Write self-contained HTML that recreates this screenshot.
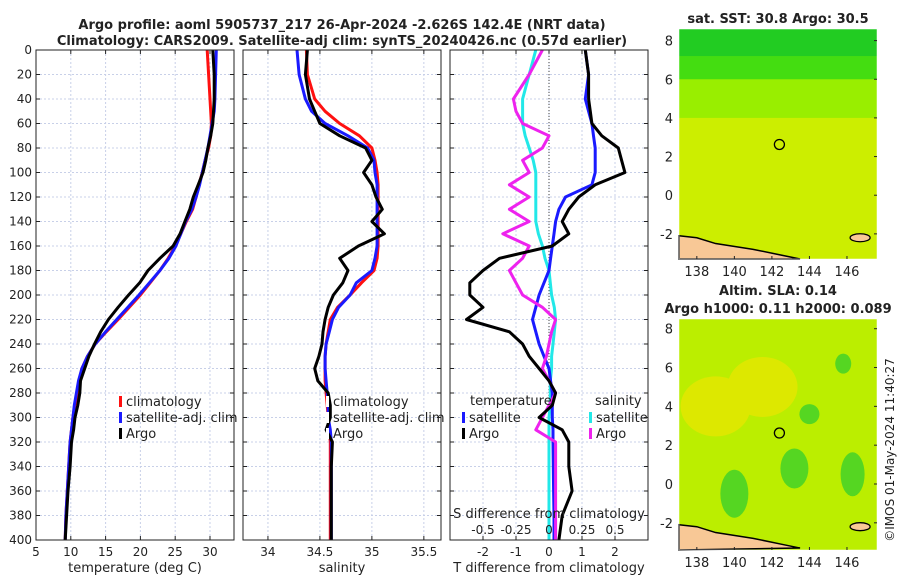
<!DOCTYPE html>
<html><head><meta charset="utf-8"><style>
body{margin:0;background:#fff;font-family:"Liberation Sans","DejaVu Sans",sans-serif}
svg text{font-family:"DejaVu Sans","Liberation Sans",sans-serif;fill:#222}
</style></head><body>
<svg id="c" width="900" height="580" xmlns="http://www.w3.org/2000/svg">
<text x="342" y="29" text-anchor="middle" font-size="13" font-weight="bold">Argo profile: aoml 5905737_217 26-Apr-2024 -2.626S 142.4E (NRT data)</text>
<text x="342" y="45" text-anchor="middle" font-size="13" font-weight="bold">Climatology: CARS2009. Satellite-adj clim: synTS_20240426.nc (0.57d earlier)</text>
<text x="778" y="23" text-anchor="middle" font-size="13" font-weight="bold">sat. SST: 30.8 Argo: 30.5</text>
<text x="778" y="295" text-anchor="middle" font-size="13" font-weight="bold">Altim. SLA: 0.14</text>
<text x="778" y="313" text-anchor="middle" font-size="13" font-weight="bold">Argo h1000: 0.11 h2000: 0.089</text>
<text transform="translate(894,450) rotate(-90)" text-anchor="middle" font-size="12">©IMOS 01-May-2024 11:40:27</text>
<g id="g"></g>
</svg>
<script>
const depths=[0,20,40,50,60,70,80,90,100,110,120,130,140,150,160,170,180,190,200,210,220,230,240,250,260,270,280,290,300,310,320,340,360,380,400];
const tempClim=[29.6,29.8,30.0,30.1,30.2,30.1,29.8,29.3,28.9,28.4,28.0,27.5,26.6,25.8,25.0,24.0,22.8,21.4,20.0,18.4,16.8,15.1,13.5,12.4,11.6,11.2,10.9,10.6,10.3,10.1,9.9,9.7,9.5,9.3,9.2];
const tempSat=[30.9,30.8,30.7,30.6,30.3,30.0,29.7,29.3,28.9,28.5,28.0,27.4,26.5,25.8,25.1,24.1,22.8,21.3,19.8,18.2,16.6,15.0,13.5,12.4,11.6,11.1,10.8,10.5,10.3,10.1,9.9,9.7,9.5,9.3,9.2];
const tempArgo=[30.4,30.6,30.6,30.5,30.4,30.1,29.7,29.4,29.0,28.3,27.6,27.1,26.4,25.7,24.7,22.8,21.1,19.9,18.3,16.8,15.4,14.3,13.4,12.6,12.0,11.4,11.3,11.0,10.6,10.4,10.1,9.9,9.6,9.4,9.2];
const salClim=[34.37,34.38,34.45,34.55,34.69,34.88,35.0,35.03,35.05,35.06,35.06,35.06,35.06,35.06,35.06,35.05,35.02,34.90,34.79,34.67,34.60,34.58,34.56,34.55,34.55,34.55,34.56,34.57,34.58,34.59,34.60,34.60,34.60,34.60,34.60];
const salSat=[34.28,34.30,34.36,34.42,34.55,34.77,34.96,35.02,35.03,35.05,35.05,35.05,35.05,35.05,35.05,35.03,35.0,34.85,34.79,34.68,34.62,34.59,34.56,34.55,34.55,34.56,34.57,34.58,34.58,34.60,34.61,34.61,34.61,34.61,34.61];
const salArgo=[34.38,34.36,34.40,34.45,34.50,34.69,34.94,35.00,34.92,35.0,35.04,35.1,35.0,35.12,34.87,34.69,34.77,34.72,34.63,34.58,34.55,34.53,34.52,34.49,34.45,34.48,34.58,34.60,34.60,34.56,34.62,34.61,34.61,34.61,34.61];
const dTsat=[1.1,1.2,1.1,1.2,1.3,1.35,1.4,1.4,1.4,1.3,0.5,0.3,0.2,0.15,0.1,0.05,0.0,-0.15,-0.3,-0.4,-0.5,-0.4,-0.3,-0.15,0.0,0.05,0.1,0.1,0.1,0.12,0.12,0.13,0.14,0.15,0.15];
const dTargo=[1.1,1.2,1.2,1.25,1.3,1.6,2.1,2.2,2.3,1.4,0.9,0.6,0.4,0.6,0.1,-1.5,-2.0,-2.4,-2.4,-2.0,-2.5,-1.2,-0.8,-0.6,-0.3,0.0,0.2,0.1,-0.3,0.4,0.6,0.6,0.7,0.4,0.3];
const dSsat=[-0.1,-0.15,-0.2,-0.2,-0.2,-0.18,-0.15,-0.12,-0.1,-0.1,-0.1,-0.1,-0.1,-0.08,-0.05,-0.03,0.0,0.01,0.02,0.04,0.05,0.04,0.03,0.02,0.02,0.01,0.01,0.01,0.0,0.0,0.0,0.0,0.0,0.0,0.0];
const dSargo=[-0.05,-0.15,-0.27,-0.25,-0.2,0.0,-0.05,-0.2,-0.15,-0.3,-0.15,-0.3,-0.15,-0.35,-0.15,-0.2,-0.3,-0.25,-0.2,-0.05,0.05,0.02,0.0,-0.02,-0.05,0.0,0.05,0.0,-0.05,-0.1,0.05,0.05,0.05,0.05,0.05];
const tTicks=[5,10,15,20,25,30];
const sTicks=[34,34.5,35,35.5];
const dTTicks=[-2,-1,0,1,2];
const dSTicks=[-0.5,-0.25,0,0.25,0.5];
const depthTicks=[0,20,40,60,80,100,120,140,160,180,200,220,240,260,280,300,320,340,360,380,400];
const lonTicks=[138,140,142,144,146];
const latTicks=[-2,0,2,4,6,8];

const NS='http://www.w3.org/2000/svg';
const G=document.getElementById('g');
function el(t,a,p){const e=document.createElementNS(NS,t);for(const k in a)e.setAttribute(k,a[k]);(p||G).appendChild(e);return e;}
function txt(x,y,s,a,p){const e=el('text',Object.assign({x:x,y:y,'font-size':12},a||{}),p);e.textContent=s;return e;}
const Y0=50,Y1=540;
const yD=d=>Y0+d/400*(Y1-Y0);
function panel(x0,x1,lo,hi,name){
  const sx=v=>x0+(v-lo)/(hi-lo)*(x1-x0);
  const g=el('g',{});
  
  
  return {g,sx,x0,x1};
}
function frame(P,ticks,fmt,showY,xlabel,xlabY){
  const g=P.g;
  ticks.forEach(t=>{const x=P.sx(t);el('line',{x1:x,x2:x,y1:Y0,y2:Y1,stroke:'#c8d0e8','stroke-dasharray':'2,2','stroke-width':1},g);});
  depthTicks.forEach(d=>{const y=yD(d);el('line',{x1:P.x0,x2:P.x1,y1:y,y2:y,stroke:'#c8d0e8','stroke-dasharray':'2,2','stroke-width':1},g);
    el('line',{x1:P.x0,x2:P.x0+4,y1:y,y2:y,stroke:'#222'},g);el('line',{x1:P.x1-4,x2:P.x1,y1:y,y2:y,stroke:'#222'},g);
    if(showY){const t=txt(P.x0-4,y+4,String(d),{'text-anchor':'end'},g);}});
  ticks.forEach(t=>{const x=P.sx(t);el('line',{x1:x,x2:x,y1:Y1,y2:Y1-4,stroke:'#222'},g);el('line',{x1:x,x2:x,y1:Y0,y2:Y0+4,stroke:'#222'},g);
    const l=txt(x,Y1+16,fmt(t),{'text-anchor':'middle'},g);});
  if(xlabel){const l=txt((P.x0+P.x1)/2,xlabY,xlabel,{'text-anchor':'middle','font-size':13},g);}
}
function border(P){el('rect',{x:P.x0,y:Y0,width:P.x1-P.x0,height:Y1-Y0,fill:'none',stroke:'#222','stroke-width':1},P.g);}
function series(P,vals,col,name,w){
  const d=vals.map((v,i)=>(i?'L':'M')+P.sx(v).toFixed(1)+','+yD(depths[i]).toFixed(1)).join('');
  const p=el('path',{d:d,fill:'none',stroke:col,'stroke-width':w||3,'stroke-linejoin':'round'},P.g);
  
  
}
function legend(g,x,y,items){items.forEach((it,i)=>{const yy=y+i*16;el('rect',{x:x,y:yy-9,width:3,height:11,fill:it[1]},g);const t=txt(x+7,yy+1,it[0],{'font-size':13},g);});}

const P1=panel(36,234,5,33.45,'temperature-panel');
frame(P1,tTicks,String,true,'temperature (deg C)',572);
series(P1,tempClim,'#ff1010','climatology-temp-line');
series(P1,tempSat,'#1a1aff','satellite-temp-line');
series(P1,tempArgo,'#000','argo-temp-line');
border(P1);
legend(P1.g,119,405,[['climatology','#ff1010'],['satellite-adj. clim','#1a1aff'],['Argo','#000']]);

const P2=panel(243,441,33.76,35.665,'salinity-panel');
frame(P2,sTicks,String,false,'salinity',572);
series(P2,salClim,'#ff1010','climatology-salinity-line');
series(P2,salSat,'#1a1aff','satellite-salinity-line');
series(P2,salArgo,'#000','argo-salinity-line');
border(P2);
legend(P2.g,326,405,[['climatology','#fff'],['satellite-adj. clim','#fff'],['Argo','#fff']]);

const P3=panel(450,648,-3.0,3.0,'difference-panel');
frame(P3,dTTicks,String,false,'T difference from climatology',572);
el('line',{x1:P3.sx(0),x2:P3.sx(0),y1:Y0,y2:Y1,stroke:'#444','stroke-dasharray':'1,2'},P3.g);
const PS={g:P3.g,sx:v=>P3.sx(v*4),x0:P3.x0,x1:P3.x1};
series(PS,dSsat,'#22e8e8','satellite-salinity-diff-line');
series(P3,dTsat,'#1a1aff','satellite-temp-diff-line');
series(PS,dSargo,'#ee22ee','argo-salinity-diff-line');
series(P3,dTargo,'#000','argo-temp-diff-line');
border(P3);
dSTicks.forEach(t=>{const l=txt(PS.sx(t),534,String(t),{'text-anchor':'middle','font-size':12},P3.g);});
txt(549,518,'S difference from climatology',{'text-anchor':'middle','font-size':13},P3.g);
txt(470,405,'temperature',{'font-size':13},P3.g);
txt(595,405,'salinity',{'font-size':13},P3.g);
legend(P3.g,462,421,[['satellite','#1a1aff'],['Argo','#000']]);
legend(P3.g,589,421,[['satellite','#22e8e8'],['Argo','#ee22ee']]);

function map(y0,y1,latTop,latBot,name,kind){
  const x0=679,x1=877,lonL=137.05,lonR=147.6;
  const sx=v=>x0+(v-lonL)/(lonR-lonL)*(x1-x0);
  const sy=v=>y0+(latTop-v)/(latTop-latBot)*(y1-y0);
  const g=el('g',{});
  
  
  if(kind==='sst'){
    el('rect',{x:x0,y:y0,width:x1-x0,height:y1-y0,fill:'#ccee00'},g);
    el('rect',{x:x0,y:y0,width:x1-x0,height:sy(4)-y0,fill:'#99ee00'},g);
    el('rect',{x:x0,y:y0,width:x1-x0,height:sy(6)-y0,fill:'#44dd11'},g);
    el('rect',{x:x0,y:y0,width:x1-x0,height:sy(7.2)-y0,fill:'#22cc22'},g);
  } else {
    el('rect',{x:x0,y:y0,width:x1-x0,height:y1-y0,fill:'#bbee00'},g);
    [[141.5,5],[139,4]].forEach(c=>el('ellipse',{cx:sx(c[0]),cy:sy(c[1]),rx:35,ry:30,fill:'#dde800'},g));
    [[140,-0.5,14,24],[143.2,0.8,14,20],[146.3,0.5,12,22],[144,3.6,10,10],[145.8,6.2,8,10]].forEach(c=>el('ellipse',{cx:sx(c[0]),cy:sy(c[1]),rx:c[2],ry:c[3],fill:'#55d622'},g));
  }
  el('path',{d:`M${x0},${sy(-2.1)} L${sx(138)},${sy(-2.2)} L${sx(139)},${sy(-2.5)} L${sx(141)},${sy(-2.8)} L${sx(142.5)},${sy(-3.1)} L${sx(143.5)},${sy(-3.3)} L${x0},${y1} Z`,fill:'#f8c896',stroke:'#000','stroke-width':1.5},g);
  el('ellipse',{cx:sx(146.7),cy:sy(-2.2),rx:10,ry:4,fill:'#f8c896',stroke:'#000','stroke-width':1.3},g);
  const m=el('circle',{cx:sx(142.4),cy:sy(2.626),r:5,fill:'none',stroke:'#000','stroke-width':1.3},g);
  
  
  el('rect',{x:x0,y:y0,width:x1-x0,height:y1-y0,fill:'none',stroke:'#fff','stroke-width':0.5},g);
  lonTicks.forEach(t=>{const x=sx(t);el('line',{x1:x,x2:x,y1:y1,y2:y1-3,stroke:'#222'},g);const l=txt(x,y1+17,String(t),{'text-anchor':'middle','font-size':13},g);});
  latTicks.forEach(t=>{const y=sy(t);if(y<y0-1||y>y1)return;el('line',{x1:x1,x2:x1-3,y1:y,y2:y,stroke:'#222'},g);const l=txt(673,y+5,String(t),{'text-anchor':'end','font-size':13},g);});
}
map(29,259,8.6,-3.3,'sst-map','sst');
map(319,550,8.5,-3.4,'sla-map','sla');
</script>
</body></html>
